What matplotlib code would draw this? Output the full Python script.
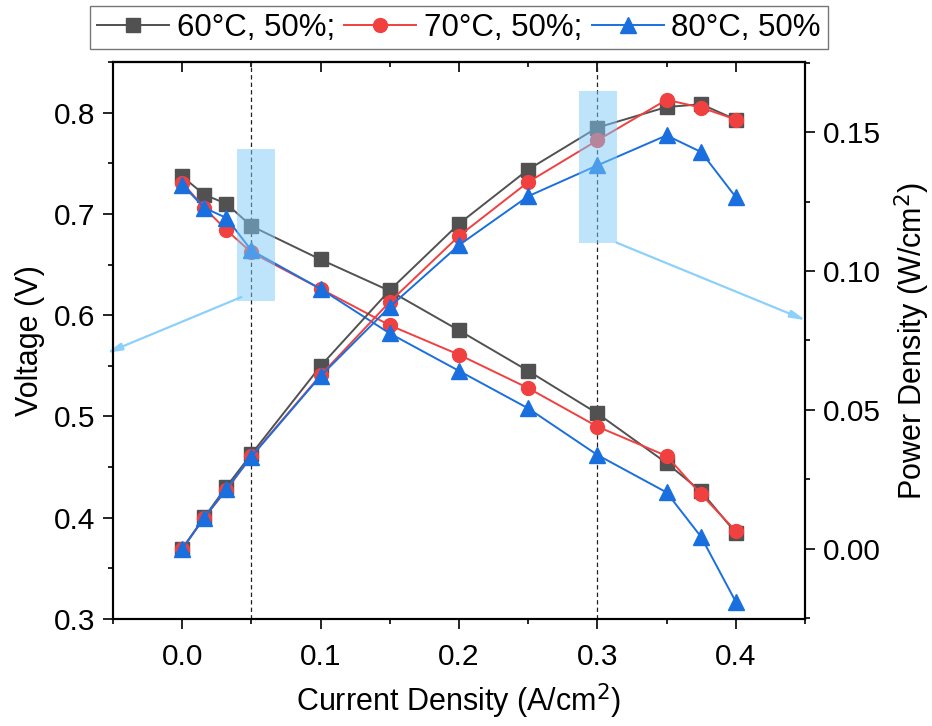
import matplotlib
matplotlib.use("Agg")
import matplotlib.pyplot as plt
from matplotlib.patches import Rectangle
from matplotlib.ticker import MultipleLocator, FormatStrFormatter

plt.rcParams['font.family'] = ['Liberation Sans', 'DejaVu Sans']

# current density (A/cm2)
current = [0.0, 0.016, 0.032, 0.05, 0.1, 0.15, 0.2, 0.25, 0.3, 0.35, 0.375, 0.4]

# voltage (V)
v_60 = [0.737, 0.719, 0.710, 0.688, 0.655, 0.624, 0.585, 0.545, 0.503, 0.454, 0.426, 0.385]
v_70 = [0.731, 0.706, 0.684, 0.662, 0.626, 0.590, 0.561, 0.528, 0.490, 0.461, 0.423, 0.387]
v_80 = [0.729, 0.706, 0.696, 0.664, 0.626, 0.582, 0.545, 0.508, 0.462, 0.425, 0.381, 0.317]

# power density (W/cm2)
p_60 = [0.0, 0.0114, 0.0224, 0.0341, 0.0658, 0.0931, 0.1170, 0.1365, 0.1516, 0.1590, 0.1600, 0.1545]
p_70 = [0.0, 0.0113, 0.0212, 0.0334, 0.0625, 0.0889, 0.1126, 0.1320, 0.1470, 0.1616, 0.1588, 0.1545]
p_80 = [0.0, 0.0113, 0.0216, 0.0332, 0.0622, 0.0871, 0.1093, 0.1269, 0.1380, 0.1488, 0.1428, 0.1266]

labels = ['60°C, 50%;', '70°C, 50%;', '80°C, 50%']
colors = ['#515151', '#F14040', '#1A6FDF']
markers = ['s', 'o', '^']
msizes = [9.5, 10, 11]

highlight = '#7DCBF7'
arrow_col = '#8DD0FA'

fig = plt.figure(figsize=(9.32, 7.26), dpi=100)
ax = fig.add_axes([0.1212, 0.1474, 0.7425, 0.7672])
ax2 = ax.twinx()

handles = []
for v, p, lab, c, m, ms in zip([v_60, v_70, v_80], [p_60, p_70, p_80], labels, colors, markers, msizes):
    h, = ax.plot(current, v, color=c, marker=m, ms=ms, lw=1.4, label=lab)
    ax2.plot(current, p, color=c, marker=m, ms=ms, lw=1.4)
    handles.append(h)

ax.set_xlim(-0.05, 0.45)
ax.set_ylim(0.3, 0.85)
ax2.set_ylim(-0.0252, 0.1752)

# dashed guide lines
for xv in [0.05, 0.3]:
    ax.axvline(xv, color='#222222', lw=0.9, ls=(0, (3.5, 2.5)), zorder=1)

# highlight boxes (drawn on top so markers show through tinted)
ax2.add_patch(Rectangle((0.0394, 0.614), 0.0274, 0.1505, transform=ax.transData,
                        facecolor=highlight, alpha=0.5, edgecolor='none', zorder=5))
ax2.add_patch(Rectangle((0.2865, 0.1099), 0.0275, 0.0547,
                        facecolor=highlight, alpha=0.5, edgecolor='none', zorder=5))

arrow_kw = dict(arrowstyle='-|>,head_length=0.9,head_width=0.22', color=arrow_col, lw=1.6,
                shrinkA=0, shrinkB=0)
ax.annotate('', xy=(-0.0546, 0.5626), xytext=(0.0428, 0.6179),
            arrowprops=arrow_kw, annotation_clip=False)
ax2.annotate('', xy=(0.4505, 0.0823), xytext=(0.3139, 0.1102),
             arrowprops=arrow_kw, annotation_clip=False, zorder=6)

# axes styling
for a in (ax, ax2):
    for s in a.spines.values():
        s.set_linewidth(1.5)
        s.set_color('black')

ax.xaxis.set_major_locator(MultipleLocator(0.1))
ax.xaxis.set_minor_locator(MultipleLocator(0.05))
ax.xaxis.set_major_formatter(FormatStrFormatter('%.1f'))
ax.yaxis.set_major_locator(MultipleLocator(0.1))
ax.yaxis.set_minor_locator(MultipleLocator(0.05))
ax.yaxis.set_major_formatter(FormatStrFormatter('%.1f'))
ax2.yaxis.set_major_locator(MultipleLocator(0.05))
ax2.yaxis.set_minor_locator(MultipleLocator(0.025))
ax2.yaxis.set_major_formatter(FormatStrFormatter('%.2f'))

ax.tick_params(axis='x', which='major', direction='out', length=7, width=1.2,
               labelsize=21.5, pad=10)
ax.tick_params(axis='y', which='major', direction='out', length=7, width=1.2,
               labelsize=21.5, pad=6)
ax.tick_params(which='minor', direction='out', length=3.8, width=1.2)
ax2.tick_params(which='major', direction='out', length=7, width=1.2, labelsize=21.5, pad=6)
ax2.tick_params(which='minor', direction='out', length=3.8, width=1.2)

top = ax.secondary_xaxis('top')
top.xaxis.set_major_locator(MultipleLocator(0.1))
top.xaxis.set_minor_locator(MultipleLocator(0.05))
top.tick_params(which='major', direction='in', length=7, width=1.2, labeltop=False)
top.tick_params(which='minor', direction='in', length=3.8, width=1.2)
top.spines['top'].set_linewidth(1.5)

ax.set_xlabel('Current Density (A/cm$^2$)', fontsize=22, labelpad=8)
ax.set_ylabel('Voltage (V)', fontsize=22, labelpad=6)
ax2.set_ylabel('Power Density (W/cm$^2$)', fontsize=22, labelpad=8)

leg = fig.legend(handles=handles, loc='center', bbox_to_anchor=(0.4925, 0.962), ncol=3,
                 fontsize=22.5, frameon=True, fancybox=False, handlelength=2.3,
                 handletextpad=0.25, columnspacing=0.3, borderpad=0.22,
                 borderaxespad=0)
leg.get_frame().set_edgecolor('#555555')
leg.get_frame().set_linewidth(1.0)

fig.savefig('out.png', dpi=100)
